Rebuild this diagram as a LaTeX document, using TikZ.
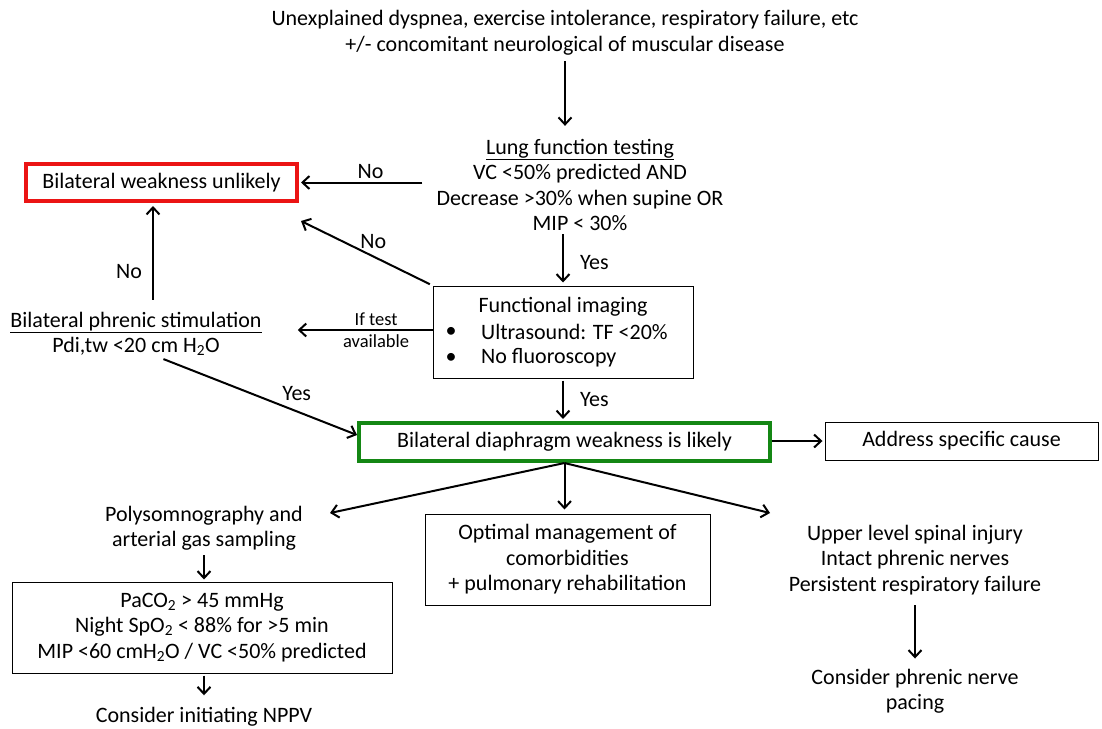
\documentclass[tikz,border=0pt]{standalone}
\usepackage{fontspec}
\setmainfont{Carlito}
\usetikzlibrary{arrows.meta}
\definecolor{boxred}{RGB}{235,20,20}
\definecolor{boxgreen}{RGB}{20,135,20}
\tikzset{
  txt/.style={align=center,inner sep=0pt,font=\fontsize{22}{25.5}\selectfont},
  box/.style={txt,draw,line width=1pt},
  redbox/.style={box,draw=boxred,line width=4pt},
  greenbox/.style={box,draw=boxgreen,line width=4pt},
  arr/.style={-{Straight Barb[length=7pt,width=13pt,line width=2pt]},line width=2pt},
  lbl/.style={font=\fontsize{22}{25}\selectfont,inner sep=2pt},
  smalllbl/.style={font=\fontsize{18.5}{22}\selectfont,inner sep=0pt,align=center}
}
\begin{document}
\begin{tikzpicture}[x=1pt,y=-1pt]
  \useasboundingbox (0,0) rectangle (1102,728);
  % nodes
  \node[txt] (top) at (565,33) {Unexplained dyspnea, exercise intolerance, respiratory failure, etc\\
    +/- concomitant neurological of muscular disease};
  \node[txt] (lung) at (580,185) {\underline{Lung function testing}\\VC <50\% predicted AND\\
    Decrease >30\% when supine OR\\MIP < 30\%};
  \node[redbox,minimum width=271,minimum height=37] (red) at (161.5,182.5) {Bilateral weakness unlikely};
  \node[box,minimum width=260,minimum height=92] (fimg) at (563,332) {};
  \node[txt] (fhead) at (563,307) {Functional imaging};
  \node[txt] (b1) at (451,332) {\textbullet};
  \node[txt,anchor=west] (f1) at (481,332) {Ultrasound: TF <20\%};
  \node[txt] (b2) at (451,358) {\textbullet};
  \node[txt,anchor=west] (f2) at (481,358) {No fluoroscopy};
  \node[txt] (phrenic) at (136,334) {\underline{Bilateral phrenic stimulation}\\Pdi,tw <20 cm H\textsubscript{2}O};
  \node[greenbox,minimum width=411,minimum height=38] (green) at (564.5,442) {Bilateral diaphragm weakness is likely};
  \node[box,minimum width=273,minimum height=38] (addr) at (961.5,441) {Address specific cause};
  \node[txt] (poly) at (204,528) {Polysomnography and\\arterial gas sampling};
  \node[box,minimum width=380,minimum height=91] (paco) at (202,627.5) {PaCO\textsubscript{2} > 45 mmHg\\
    Night SpO\textsubscript{2} < 88\% for >5 min\\MIP <60 cmH\textsubscript{2}O / VC <50\% predicted};
  \node[txt] (nppv) at (204,717) {Consider initiating NPPV};
  \node[box,minimum width=285,minimum height=91] (opt) at (567.5,559.5) {Optimal management of\\
    comorbidities\\+ pulmonary rehabilitation};
  \node[txt] (upper) at (915,560) {Upper level spinal injury\\Intact phrenic nerves\\Persistent respiratory failure};
  \node[txt] (pacing) at (915,691) {Consider phrenic nerve\\pacing};
  \coordinate (polyend) at (330,513);
  \coordinate (upperend) at (770,513);
  % connectors
  \draw[arr,shorten <=6pt,shorten >=13pt] (top.south) -- (top.south |- lung.north);
  \draw[arr,shorten <=14pt,shorten >=2pt] (red.east -| lung.west) -- (red.east)
    node[lbl,pos=0.48,above=1pt] {No};
  \draw[arr,shorten <=3pt] (fimg.north west) -- ([shift={(2,18)}]red.south east)
    node[lbl,pos=0.45,above=5pt] {No};
  \draw[arr,shorten <=3pt,shorten >=3pt] (lung.south -| fimg.north) -- (fimg.north)
    node[lbl,pos=0.58,right=14pt] {Yes};
  \draw[arr,shorten >=36pt] ([yshift=2pt]fimg.west) -- ([yshift=2pt]fimg.west -| phrenic.east)
    node[smalllbl,pos=0.33] {If test\\available};
  \draw[arr,shorten <=12pt,shorten >=3pt] ([xshift=17pt]phrenic.north) -- ([xshift=17pt]phrenic.north |- red.south)
    node[lbl,pos=0.37,left=8pt] {No};
  \draw[arr,shorten <=8pt] ([xshift=20pt]phrenic.south) -- ([yshift=7pt]green.west)
    node[lbl,pos=0.7,above=8pt] {Yes};
  \draw[arr,shorten <=2pt,shorten >=2pt] (fimg.south) -- (fimg.south |- green.north)
    node[lbl,midway,right=14pt] {Yes};
  \draw[arr,shorten >=2pt] ([yshift=1pt]green.east) -- ([yshift=1pt]green.east -| addr.west);
  \draw[arr] (green.south) -- (polyend);
  \draw[arr,shorten >=4pt] (green.south) -- (green.south |- opt.north);
  \draw[arr] (green.south) -- (upperend);
  \draw[arr,shorten <=5pt,shorten >=2pt] (poly.south) -- (poly.south |- paco.north);
  \draw[arr,shorten <=2pt,shorten >=12pt] (paco.south -| nppv.north) -- (nppv.north);
  \draw[arr,shorten <=10pt,shorten >=10pt] (upper.south) -- (pacing.north);
\end{tikzpicture}
\end{document}
